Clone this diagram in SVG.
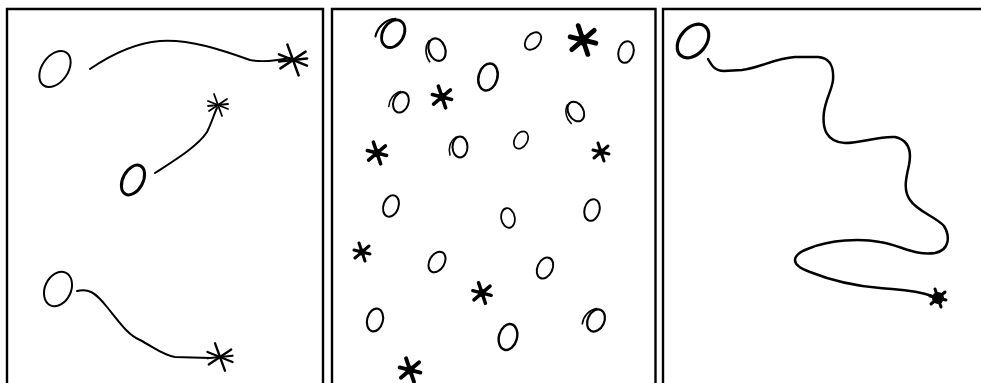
<svg xmlns="http://www.w3.org/2000/svg" width="981" height="383" viewBox="0 0 981 383">
<defs>
<style>
.frame{fill:none;stroke:#000;stroke-width:2.4}
.ink{fill:none;stroke:#000;stroke-linecap:round;stroke-linejoin:round}
.t2{stroke-width:2}
.st{stroke:#000;stroke-linecap:round;fill:none}
</style>
<g id="starThin">
<line x1="-10" y1="-4" x2="10" y2="4" class="st" stroke-width="1.8"/>
<line x1="-4" y1="-11" x2="4" y2="11" class="st" stroke-width="1.8"/>
<line x1="-9" y1="6" x2="9" y2="-6" class="st" stroke-width="1.8"/>
<line x1="-10" y1="1" x2="10" y2="-1" class="st" stroke-width="1.8"/>
</g>
<g id="starBold">
<line x1="-8" y1="-2" x2="8" y2="2" class="st" stroke-width="3"/>
<line x1="-3" y1="-9" x2="3" y2="9" class="st" stroke-width="3"/>
<line x1="-7" y1="6" x2="7" y2="-6" class="st" stroke-width="3"/>
<circle r="3.5" fill="#000"/>
</g>
<ellipse id="o" cx="0" cy="0" rx="7.5" ry="11" class="ink t2"/>
<g id="spiral">
<ellipse cx="1" cy="0" rx="7.5" ry="10.5" class="ink t2"/>
<path d="M-9,8 C-11,2 -9,-6 -3,-10" class="ink" stroke-width="1.5"/>
</g>
</defs>
<rect width="981" height="383" fill="#fff"/>

<g id="frames">
<path class="frame" d="M7,385 V9 H323 V385"/>
<path class="frame" d="M332,385 V9 H655.5 V385"/>
<path class="frame" d="M663,385 V9 H985"/>
</g>

<g id="panel1">
<g id="p1-o1"><ellipse cx="55" cy="69" rx="20" ry="13" transform="rotate(-55 55 69)" class="ink t2"/></g>
<g id="p1-o2"><ellipse cx="133" cy="180" rx="10" ry="16" transform="rotate(28 133 180)" class="ink" stroke-width="3"/></g>
<g id="p1-o3"><ellipse cx="58" cy="289" rx="13" ry="18" transform="rotate(25 58 289)" class="ink t2"/></g>
<g id="p1-s1"><use href="#starThin" transform="translate(293 60) scale(1.4)"/></g>
<g id="p1-s2"><use href="#starThin" transform="translate(218 105)"/></g>
<g id="p1-s3"><use href="#starThin" transform="translate(220 357) scale(1.25)"/></g>
<g id="p1-connectors">
<path class="ink t2" d="M90,69 C112,54 135,43 160,41 C190,39 222,50 250,60 C265,63 280,60 290,58"/>
<path class="ink t2" d="M155,173 C175,160 198,146 207,132 C212,122 214,114 217,108"/>
<path class="ink t2" d="M77,291 C88,288 95,292 107,307 C120,323 128,335 140,340 C155,348 163,355 175,357 L210,358"/>
</g>
</g>

<g id="panel2">
<g id="c1"><use href="#spiral" transform="translate(392 33) rotate(30) scale(1.4)"/></g>
<g id="c2"><use href="#spiral" transform="translate(436 50) rotate(-20) scale(1.1)"/></g>
<g id="c3"><use href="#o" transform="translate(533 41) rotate(40) scale(0.9)"/></g>
<g id="c4"><use href="#starBold" transform="translate(583 40) scale(1.6)"/></g>
<g id="c5"><use href="#o" transform="translate(626 52) rotate(15)"/></g>
<g id="c6"><use href="#o" transform="translate(488 77) rotate(15) scale(1.25)"/></g>
<g id="c7"><use href="#spiral" transform="translate(400 102) rotate(20)"/></g>
<g id="c8"><use href="#starBold" transform="translate(442 97) scale(1.2)"/></g>
<g id="c9"><use href="#spiral" transform="translate(575 112) rotate(-30)"/></g>
<g id="c10"><use href="#starBold" transform="translate(377 153) scale(1.2)"/></g>
<g id="c11"><use href="#spiral" transform="translate(459 147)"/></g>
<g id="c12"><use href="#o" transform="translate(521 140) rotate(30) scale(0.85)"/></g>
<g id="c13"><use href="#starBold" transform="translate(601 152)"/></g>
<g id="c14"><use href="#o" transform="translate(391 206) rotate(20)"/></g>
<g id="c15"><use href="#o" transform="translate(508 218) rotate(-10) scale(0.9)"/></g>
<g id="c16"><use href="#o" transform="translate(592 210) rotate(15)"/></g>
<g id="c17"><use href="#starBold" transform="translate(362 252)"/></g>
<g id="c18"><use href="#o" transform="translate(437 262) rotate(30)"/></g>
<g id="c19"><use href="#o" transform="translate(545 268) rotate(25)"/></g>
<g id="c20"><use href="#starBold" transform="translate(482 293) scale(1.15)"/></g>
<g id="c21"><use href="#o" transform="translate(375 320) rotate(15) scale(1.05)"/></g>
<g id="c22"><use href="#o" transform="translate(508 337) rotate(15) scale(1.2)"/></g>
<g id="c23"><use href="#spiral" transform="translate(595 320) rotate(25) scale(1.1)"/></g>
<g id="c24"><use href="#starBold" transform="translate(410 370) scale(1.3)"/></g>
</g>

<g id="panel3">
<g id="p3-o"><ellipse cx="693" cy="41" rx="13" ry="19" transform="rotate(40 693 41)" class="ink" stroke-width="3.2"/></g>
<g id="p3-star"><use href="#starBold" transform="translate(938 298)"/><circle cx="938" cy="298" r="6" fill="#000"/></g>
<g id="p3-connector">
<path class="ink" stroke-width="2.5" d="M708,59 C712,66 715,71 724,71 L742,70 C760,68 775,58 795,57 L818,57 C830,58 834,66 833,80 C832,90 826,98 824,112 C822,128 826,142 845,143 C862,143 878,136 895,137 C908,140 912,150 909,165 C906,178 903,190 910,200 C918,212 935,216 944,226 C950,236 950,250 935,253 C915,256 900,245 880,242 C860,238 830,240 810,248 C790,255 790,265 810,272 C830,280 855,286 880,288 C900,290 915,290 932,296"/>
</g>
</g>
</svg>
